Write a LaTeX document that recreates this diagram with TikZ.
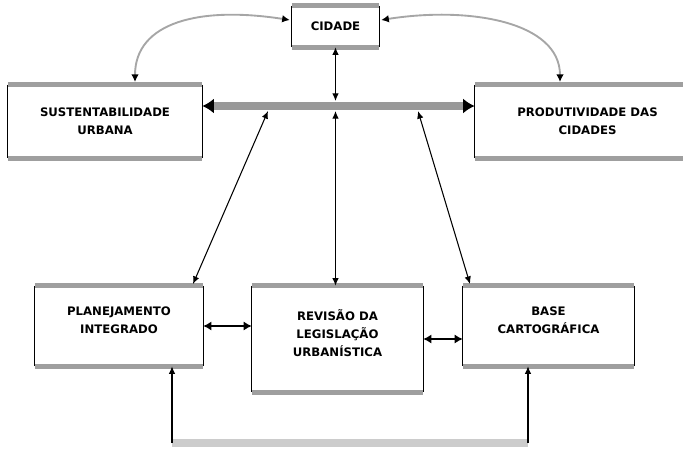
\documentclass[tikz,border=0pt]{standalone}
\usepackage{fontspec}
\setmainfont{DejaVu Sans}
\usepackage{tikz}
\usetikzlibrary{arrows.meta}
\usetikzlibrary{calc}

\tikzset{
    lado/.style={draw=black, line width=1.2pt},
    faixa/.style={draw=gray!75, line width=4.2pt},
    caixa/.style={fill=white, align=center, inner sep=0pt,
        font=\bfseries\fontsize{10}{15.5}\selectfont,
        append after command={
            (\tikzlastnode.north west) edge[lado] (\tikzlastnode.south west)
            (\tikzlastnode.north east) edge[lado] (\tikzlastnode.south east)
            (\tikzlastnode.north west) edge[faixa] (\tikzlastnode.north east)
            (\tikzlastnode.south west) edge[faixa] (\tikzlastnode.south east)}},
    fio/.style={draw=black, line width=0.9pt},
    ponta/.style={{Latex[length=6.5pt,width=5.5pt]}-{Latex[length=6.5pt,width=5.5pt]}},
    curva/.style={draw=gray!70, line width=1.6pt,
        {Latex[color=black,length=6.5pt,width=6.5pt]}-{Latex[color=black,length=6.5pt,width=6.5pt]}},
    barramento/.style={draw=gray!80, line width=6pt,
        {Latex[color=black,length=10pt,width=13pt]}-{Latex[color=black,length=10pt,width=13pt]}},
    grossa/.style={draw=black, line width=1.6pt,
        {Latex[length=7pt,width=8pt]}-{Latex[length=7pt,width=8pt]}}
}

\begin{document}
\begin{tikzpicture}[x=0.03cm, y=-0.03cm]
    \clip (0,0) rectangle (683,448);

    % caixas de cima
    \node[caixa, minimum width=2.61cm, minimum height=1.23cm] (cidade) at (335.5,26.5) {CIDADE};
    \node[caixa, minimum width=5.82cm, minimum height=2.19cm] (sust) at (105,121.5) {SUSTENTABILIDADE\\URBANA};
    \node[caixa, minimum width=6.75cm, minimum height=2.19cm] (prod) at (587.5,121.5) {PRODUTIVIDADE DAS\\CIDADES};

    % caixas de baixo
    \node[caixa, minimum width=5.04cm, minimum height=2.4cm, text depth=0.35cm] (plan) at (119,326) {PLANEJAMENTO\\INTEGRADO};
    \node[caixa, minimum width=5.13cm, minimum height=3.18cm, text depth=0.35cm] (rev) at (337.5,339) {REVISÃO DA\\LEGISLAÇÃO\\URBANÍSTICA};
    \node[caixa, minimum width=5.13cm, minimum height=2.4cm, text depth=0.35cm] (base) at (548.5,326) {BASE\\CARTOGRÁFICA};

    % barramento
    \coordinate (bus) at (335.5,106);
    \draw[barramento] (sust.east |- bus) -- (prod.west |- bus);

    % ligacoes ao barramento
    \coordinate (bcima) at (335.5,101);
    \coordinate (bbaixo) at (335.5,111);
    \draw[fio, ponta] (cidade.south) -- (bcima);
    \draw[fio, ponta] (bbaixo) -- (rev.north -| bbaixo);

    \coordinate (de) at (268,111);
    \coordinate (pe) at (193,284);
    \draw[fio, ponta] (de) -- (pe);
    \coordinate (dd) at (418,111);
    \coordinate (pd) at (470,284);
    \draw[fio, ponta] (dd) -- (pd);

    % curvas da cidade
    \coordinate (ce1) at (135,82);
    \coordinate (cd1) at (560,82);
    \draw[curva] ($(cidade.west)+(-2,-6.5)$) .. controls (200,6) and (135,22) .. (ce1);
    \draw[curva] ($(cidade.east)+(2,-6.5)$) .. controls (470,6) and (560,22) .. (cd1);

    % setas entre caixas de baixo
    \draw[grossa] (plan.east) -- (plan.east -| rev.west);
    \draw[grossa] (rev.east) -- (rev.east -| base.west);

    % retorno por baixo
    \coordinate (re) at (172,443);
    \coordinate (rd) at (528,443);
    \draw[draw=gray!40, line width=6.5pt] (re) -- (rd);
    \draw[fio, -{Latex[length=6.5pt,width=5.5pt]}] (re) -- (plan.south -| re);
    \draw[fio, -{Latex[length=6.5pt,width=5.5pt]}] (rd) -- (base.south -| rd);
\end{tikzpicture}
\end{document}
